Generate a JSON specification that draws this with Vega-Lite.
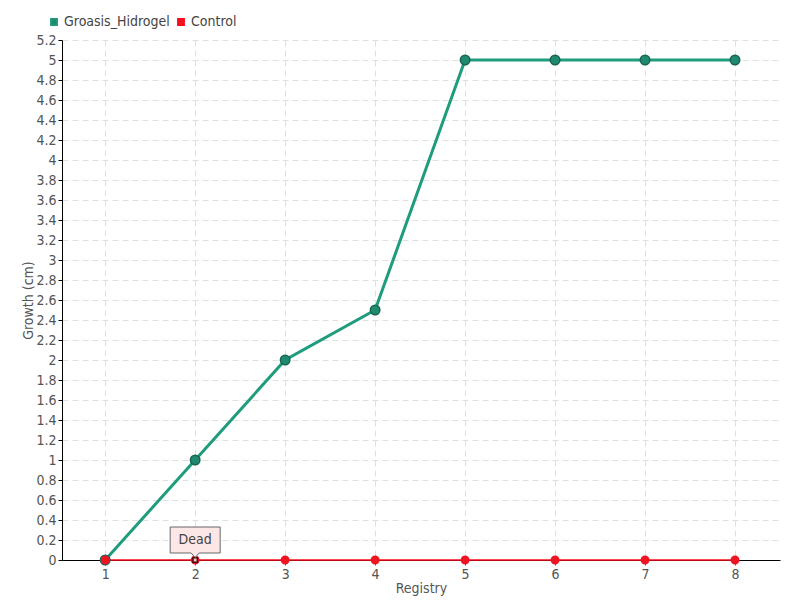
{
  "$schema": "https://vega.github.io/schema/vega-lite/v6.json",
  "width": 718,
  "height": 520,
  "autosize": "none",
  "padding": {"left": 62, "top": 40, "right": 20, "bottom": 40},
  "background": "white",
  "config": {
    "font": "Liberation Sans Narrow, DejaVu Sans Condensed, sans-serif",
    "view": {"stroke": null}
  },
  "datasets": {
    "growth": [
      {"registry": 1, "series": "Groasis_Hidrogel", "growth": 0},
      {"registry": 2, "series": "Groasis_Hidrogel", "growth": 1},
      {"registry": 3, "series": "Groasis_Hidrogel", "growth": 2},
      {"registry": 4, "series": "Groasis_Hidrogel", "growth": 2.5},
      {"registry": 5, "series": "Groasis_Hidrogel", "growth": 5},
      {"registry": 6, "series": "Groasis_Hidrogel", "growth": 5},
      {"registry": 7, "series": "Groasis_Hidrogel", "growth": 5},
      {"registry": 8, "series": "Groasis_Hidrogel", "growth": 5},
      {"registry": 1, "series": "Control", "growth": 0},
      {"registry": 2, "series": "Control", "growth": 0},
      {"registry": 3, "series": "Control", "growth": 0},
      {"registry": 4, "series": "Control", "growth": 0},
      {"registry": 5, "series": "Control", "growth": 0},
      {"registry": 6, "series": "Control", "growth": 0},
      {"registry": 7, "series": "Control", "growth": 0},
      {"registry": 8, "series": "Control", "growth": 0}
    ],
    "notes": [
      {"registry": 2, "growth": 0, "label": "Dead"}
    ]
  },
  "encoding": {
    "x": {
      "field": "registry", "type": "quantitative",
      "scale": {"domain": [0.52, 8.5], "nice": false, "zero": false},
      "axis": {
        "title": "Registry", "values": [1,2,3,4,5,6,7,8], "format": "d",
        "titleFontSize": 14, "titleFontWeight": "normal", "titleColor": "#555", "titlePadding": 0,
        "labelFontSize": 14, "labelColor": "#555", "labelPadding": 2,
        "domainColor": "#000", "tickColor": "#555", "tickSize": 5,
        "grid": true, "gridColor": "#e0e0e0", "gridDash": [6, 4]
      }
    },
    "y": {
      "field": "growth", "type": "quantitative",
      "scale": {"domain": [0, 5.2], "nice": false},
      "axis": {
        "title": "Growth (cm)", "values": [0,0.2,0.4,0.6,0.8,1,1.2,1.4,1.6,1.8,2,2.2,2.4,2.6,2.8,3,3.2,3.4,3.6,3.8,4,4.2,4.4,4.6,4.8,5,5.2],
        "format": "~g",
        "titleFontSize": 14, "titleFontWeight": "normal", "titleColor": "#555", "titlePadding": 0,
        "labelFontSize": 14, "labelColor": "#555", "labelPadding": 2,
        "domainColor": "#000", "tickColor": "#000", "tickSize": 4,
        "grid": true, "gridColor": "#e0e0e0", "gridDash": [6, 4]
      }
    }
  },
  "layer": [
    {
      "data": {"name": "growth"},
      "transform": [{"filter": "datum.series === 'Groasis_Hidrogel'"}],
      "mark": {"type": "line", "strokeWidth": 3},
      "encoding": {
        "color": {
          "field": "series", "type": "nominal",
          "scale": {"domain": ["Groasis_Hidrogel", "Control"], "range": ["#1e9c7c", "#ff0a1e"]},
          "legend": {
            "title": null, "orient": "none", "legendX": -15, "legendY": -25, "direction": "horizontal",
            "symbolType": "square", "symbolSize": 40, "labelFontSize": 14, "labelColor": "#444",
            "columnPadding": 4, "symbolOffset": 0, "labelOffset": 3
          }
        }
      }
    },
    {
      "data": {"name": "growth"},
      "transform": [{"filter": "datum.series === 'Control'"}],
      "mark": {"type": "line", "strokeWidth": 1.5},
      "encoding": {
        "color": {"field": "series", "type": "nominal"}
      }
    },
    {
      "data": {"name": "growth"},
      "mark": {"type": "point", "filled": true, "strokeWidth": 1.5, "opacity": 1},
      "encoding": {
        "color": {"field": "series", "type": "nominal", "legend": null},
        "fill": {
          "field": "series", "type": "nominal", "legend": null,
          "scale": {"domain": ["Groasis_Hidrogel", "Control"], "range": ["#1f8a6d", "#ee1522"]}
        },
        "stroke": {
          "field": "series", "type": "nominal", "legend": null,
          "scale": {"domain": ["Groasis_Hidrogel", "Control"], "range": ["#176552", "#ee1522"]}
        },
        "size": {"condition": {"test": "datum.series === 'Control'", "value": 55}, "value": 90},
        "order": {"field": "series", "sort": "descending"}
      }
    },
    {
      "data": {"name": "notes"},
      "mark": {"type": "point", "shape": "square", "filled": true, "fill": "white", "stroke": "black", "strokeWidth": 1.5, "size": 20}
    },
    {
      "data": {"name": "notes"},
      "mark": {
        "type": "point",
        "shape": "M-1,-1.32 H1 V-0.28 H0.16 L0,-0.1 L-0.16,-0.28 H-1 Z",
        "filled": true, "fill": "#fde6e6", "stroke": "#666", "strokeWidth": 1, "size": 2500, "opacity": 1
      }
    },
    {
      "data": {"name": "notes"},
      "mark": {"type": "text", "dy": -20, "fontSize": 14, "color": "#444"},
      "encoding": {"text": {"field": "label"}}
    }
  ]
}
